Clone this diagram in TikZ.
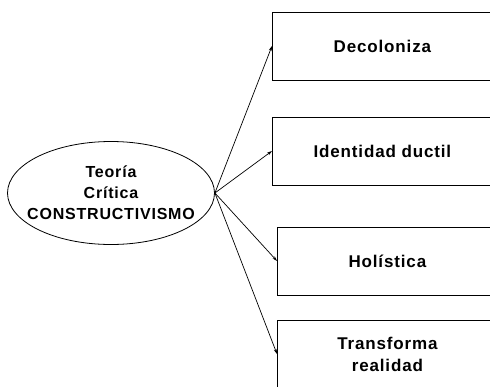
\documentclass[tikz,border=0pt]{standalone}
\usepackage{fontspec}
\setmainfont{Liberation Sans}
\usetikzlibrary{arrows.meta,positioning,shapes.geometric}

\begin{document}
\begin{tikzpicture}[x=1pt, y=-1pt,
        ideabox/.style={draw, line width=0.8pt, minimum width=220pt, minimum height=68pt,
                     anchor=west, align=center,
                     font=\fontsize{17}{22}\selectfont\bfseries\addfontfeature{LetterSpace=5}},
        idea/.style={draw, ellipse, line width=0.8pt, minimum width=207pt, minimum height=103pt,
                     inner sep=0pt},
        ideatext/.style={align=center,
                     font=\fontsize{16}{21}\selectfont\bfseries\addfontfeature{LetterSpace=5}},
        arr/.style={-{Stealth[length=5pt,width=3pt]}, line width=0.7pt}
      ]
        \useasboundingbox (0,0) rectangle (490,386);
        \clip (0,0) rectangle (490,386);
        \node[idea, label={[ideatext]center:Teoría\\Crítica\\CONSTRUCTIVISMO}] (teoria) at (111,193) {};
        \node[ideabox] (b1) at (272,46) {Decoloniza};
        \node[ideabox] (b2) at (272,151) {Identidad ductil};
        \node[ideabox] (b3) at (277,261) {Holística};
        \node[ideabox] (b4) at (277,354) {Transforma\\realidad};
        \draw[arr] (teoria.east)--(b1.west); \draw[arr] (teoria.east)--(b2.west);
        \draw[arr] (teoria.east)--(b3.west); \draw[arr] (teoria.east)--(b4.west);
      \end{tikzpicture}
\end{document}
